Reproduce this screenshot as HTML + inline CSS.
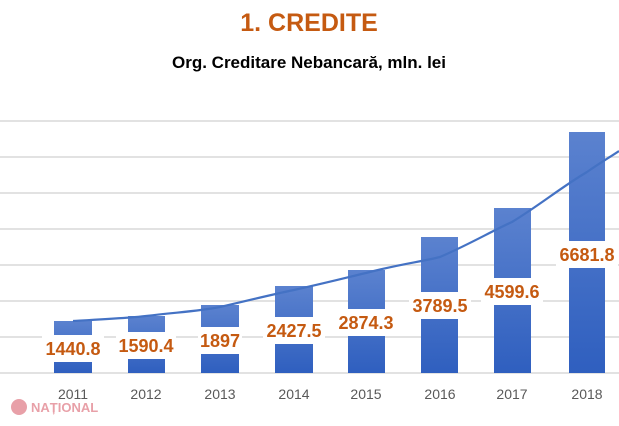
<!DOCTYPE html>
<html><head><style>
body{margin:0;width:619px;height:421px;background:#fff;overflow:hidden;font-family:"Liberation Sans",sans-serif}
</style></head><body>
<svg width="619" height="421" xmlns="http://www.w3.org/2000/svg">
<defs><linearGradient id="g" x1="0" y1="0" x2="0" y2="1"><stop offset="0" stop-color="#5b82cf"/><stop offset="1" stop-color="#2f5fbf"/></linearGradient></defs>
<text x="309" y="31" text-anchor="middle" font-size="25" font-weight="bold" fill="#C55A11">1. CREDITE</text>
<text x="309" y="68" text-anchor="middle" font-size="17" font-weight="bold" fill="#000">Org. Creditare Nebancară,  mln. lei</text>
<g stroke="#d9d9d9" stroke-width="1.5">
<line x1="0" y1="121" x2="619" y2="121"/><line x1="0" y1="157" x2="619" y2="157"/><line x1="0" y1="193" x2="619" y2="193"/><line x1="0" y1="229" x2="619" y2="229"/><line x1="0" y1="265" x2="619" y2="265"/><line x1="0" y1="301" x2="619" y2="301"/><line x1="0" y1="337" x2="619" y2="337"/><line x1="0" y1="373" x2="619" y2="373"/>
</g>
<g fill="url(#g)">
<rect x="54" y="321" width="38" height="52"/><rect x="128" y="316" width="37" height="57"/><rect x="201" y="305" width="38" height="68"/><rect x="275" y="286" width="38" height="87"/><rect x="348" y="270" width="37" height="103"/><rect x="421" y="237" width="37" height="136"/><rect x="494" y="208" width="37" height="165"/><rect x="569" y="132" width="36" height="241"/>
</g>
<path d="M73,321 C110,319 130,318 146,316 C180,312 200,311 220,307 C250,300 270,295 294,290 C330,282 345,278 366,273 C400,264 420,262 440,257 C470,244 490,232 512,222 C540,205 560,188 587,172 C600,163 610,157 619,151" fill="none" stroke="#4472c4" stroke-width="2.2"/>
<g fill="#fff">
<rect x="42" y="335" width="62" height="27"/><rect x="116" y="332" width="60" height="27"/><rect x="198" y="327" width="44" height="27"/><rect x="263" y="317" width="62" height="27"/><rect x="335" y="309" width="62" height="27"/><rect x="409" y="292" width="62" height="27"/><rect x="481" y="278" width="62" height="27"/><rect x="556" y="241" width="62" height="27"/>
</g>
<g font-size="18" font-weight="bold" fill="#C55A11" text-anchor="middle">
<text x="73" y="355">1440.8</text><text x="146" y="352">1590.4</text><text x="220" y="347">1897</text><text x="294" y="337">2427.5</text><text x="366" y="329">2874.3</text><text x="440" y="312">3789.5</text><text x="512" y="298">4599.6</text><text x="587" y="261">6681.8</text>
</g>
<g font-size="14" fill="#595959" text-anchor="middle">
<text x="73" y="399">2011</text><text x="146" y="399">2012</text><text x="220" y="399">2013</text><text x="294" y="399">2014</text><text x="366" y="399">2015</text><text x="440" y="399">2016</text><text x="512" y="399">2017</text><text x="587" y="399">2018</text>
</g>
<circle cx="19" cy="407" r="8" fill="#e8a0a8"/>
<text x="31" y="412" font-size="13" font-weight="bold" fill="#e8a0a8">NAȚIONAL</text>
</svg>
</body></html>
